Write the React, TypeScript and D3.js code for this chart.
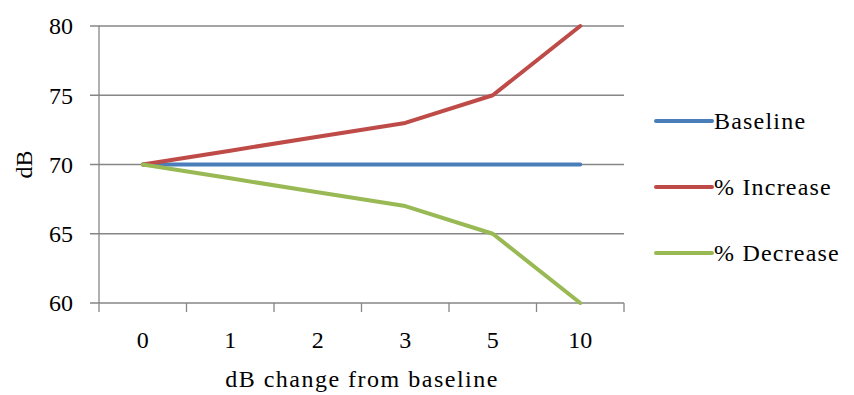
import { useEffect, useRef } from "react";
import * as d3 from "d3";

const categories = ["0", "1", "2", "3", "5", "10"];
const baseline = [70, 70, 70, 70, 70, 70];
const increase = [70, 71, 72, 73, 75, 80];
const decrease = [70, 69, 68, 67, 65, 60];
const yTicks = [60, 65, 70, 75, 80];

const seriesNames = ["Baseline", "% Increase", "% Decrease"];
const seriesColors = ["#4A7EBB", "#BE4B48", "#98B954"];

const App = () => {
	const svgRef = useRef<SVGSVGElement>(null);

	useEffect(() => {
		if (!svgRef.current) return;
		const width = 854;
		const height = 395;
		const margin = { top: 26, left: 99, right: 230, bottom: 92 };
		const font = "'Times New Roman', 'Liberation Serif', 'DejaVu Serif', serif";

		const svg = d3
			.select(svgRef.current)
			.attr("width", width)
			.attr("height", height)
			.style("font-family", font)
			.style("font-size", "24px");
		svg.selectAll("*").remove();

		const x = d3
			.scaleBand()
			.domain(categories)
			.range([margin.left, width - margin.right]);
		const y = d3
			.scaleLinear()
			.domain([60, 80])
			.range([height - margin.bottom, margin.top]);

		// Gridlines
		svg
			.append("g")
			.selectAll("line")
			.data(yTicks)
			.join("line")
			.attr("x1", margin.left - 9)
			.attr("x2", width - margin.right)
			.attr("y1", (d) => y(d))
			.attr("y2", (d) => y(d))
			.attr("stroke", "#868686")
			.attr("stroke-width", 1.3);

		// Y axis line
		svg
			.append("line")
			.attr("x1", margin.left)
			.attr("x2", margin.left)
			.attr("y1", margin.top)
			.attr("y2", height - margin.bottom + 9)
			.attr("stroke", "#868686")
			.attr("stroke-width", 1.3);

		// X tick marks at band boundaries
		const boundaries = categories.map((c) => x(c)!).concat([width - margin.right]);
		svg
			.append("g")
			.selectAll("line")
			.data(boundaries.slice(1))
			.join("line")
			.attr("x1", (d) => d)
			.attr("x2", (d) => d)
			.attr("y1", height - margin.bottom)
			.attr("y2", height - margin.bottom + 9)
			.attr("stroke", "#868686")
			.attr("stroke-width", 1.3);

		// Y tick labels
		svg
			.append("g")
			.selectAll("text")
			.data(yTicks)
			.join("text")
			.attr("x", 73)
			.attr("y", (d) => y(d))
			.attr("dy", "0.35em")
			.attr("text-anchor", "end")
			.attr("fill", "#000")
			.text((d) => d);

		// X tick labels
		svg
			.append("g")
			.selectAll("text")
			.data(categories)
			.join("text")
			.attr("x", (d) => x(d)! + x.bandwidth() / 2)
			.attr("y", height - margin.bottom + 45)
			.attr("text-anchor", "middle")
			.attr("fill", "#000")
			.text((d) => d);

		// Axis titles
		svg
			.append("text")
			.attr("x", 362)
			.attr("y", 387)
			.attr("text-anchor", "middle")
			.style("letter-spacing", "1.5px")
			.attr("fill", "#000")
			.text("dB change from baseline");

		svg
			.append("text")
			.attr("transform", `translate(32, ${y(70)}) rotate(-90)`)
			.attr("text-anchor", "middle")
			.attr("fill", "#000")
			.text("dB");

		// Lines
		const data = [baseline, increase, decrease];
		const line = d3
			.line<number>()
			.x((_, i) => x(categories[i])! + x.bandwidth() / 2)
			.y((d) => y(d));

		svg
			.append("g")
			.selectAll("path")
			.data(data)
			.join("path")
			.attr("d", (d) => line(d))
			.attr("fill", "none")
			.attr("stroke", (_, i) => seriesColors[i])
			.attr("stroke-width", 4)
			.attr("stroke-linejoin", "round")
			.attr("stroke-linecap", "round");

		// Legend
		const legend = svg
			.append("g")
			.selectAll("g")
			.data(seriesNames)
			.join("g")
			.attr("transform", (_, i) => `translate(656, ${121 + i * 66})`);

		legend
			.append("line")
			.attr("x1", 0)
			.attr("x2", 56)
			.attr("stroke", (_, i) => seriesColors[i])
			.attr("stroke-width", 4)
			.attr("stroke-linecap", "round");

		legend
			.append("text")
			.attr("x", 58)
			.attr("dy", "0.35em")
			.style("letter-spacing", "1.2px")
			.attr("fill", "#000")
			.text((d) => d);
	}, []);

	return <svg ref={svgRef} style={{ position: "absolute", left: 0, top: 0 }} />;
};

export default App;
